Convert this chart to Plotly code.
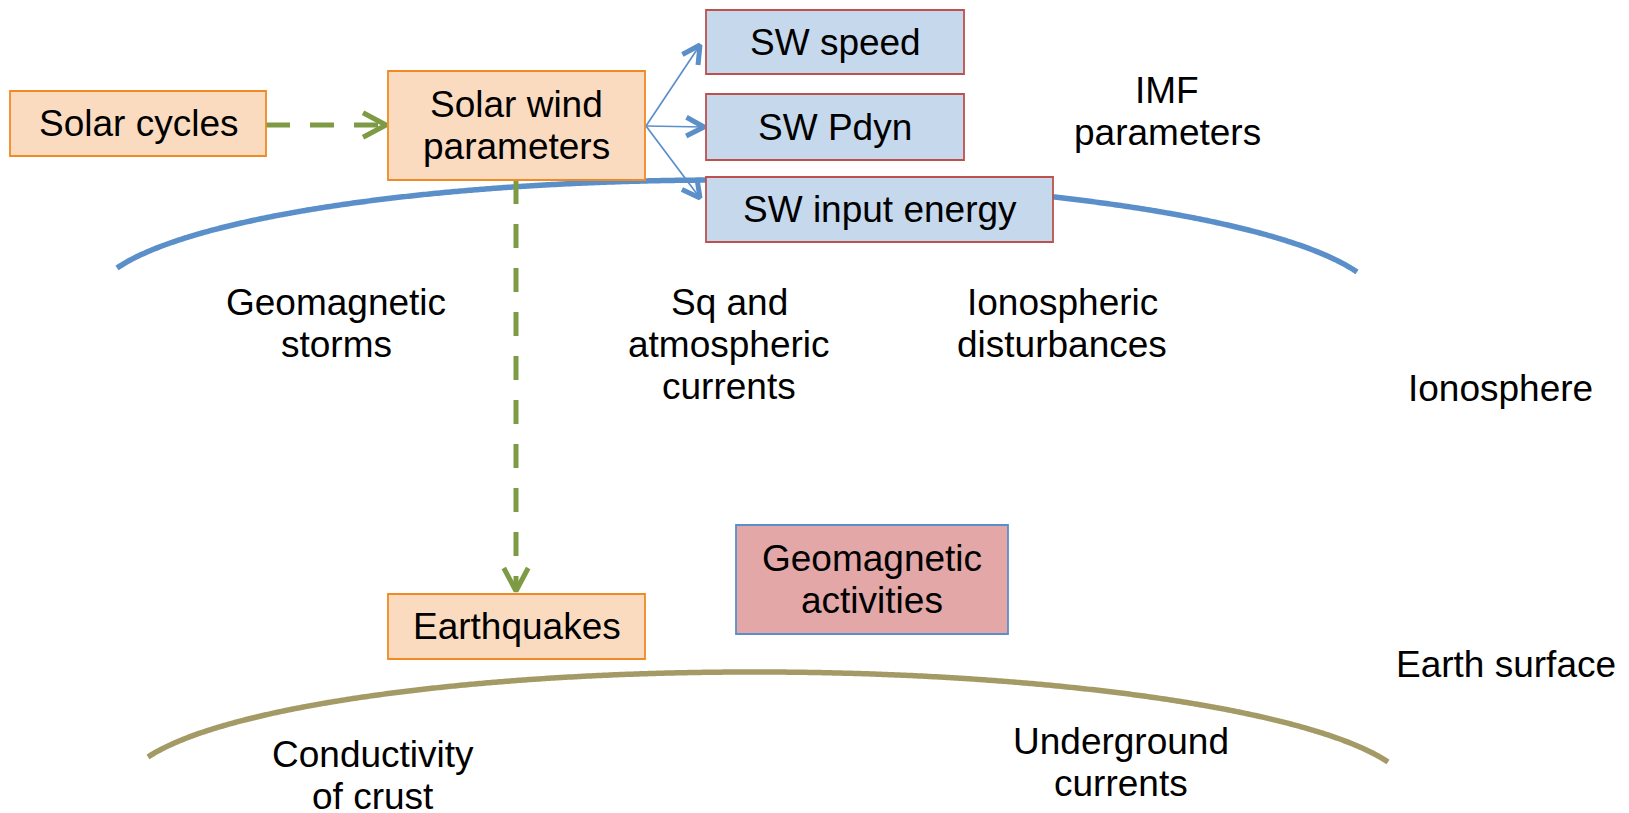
import numpy as np
import plotly.graph_objects as go

W, H = 1629, 813

# ---------------- data ----------------
# boxed nodes (label lines, extents in page pixels)
box_labels = [["Solar cycles"], ["Solar wind", "parameters"], ["SW speed"], ["SW Pdyn"],
              ["SW input energy"], ["Earthquakes"], ["Geomagnetic", "activities"]]
box_x0 = [10, 388, 706, 706, 706, 388, 736]
box_x1 = [266, 645, 964, 964, 1053, 645, 1008]
box_y0 = [91, 71, 10, 94, 177, 594, 525]
box_y1 = [156, 180, 74, 160, 242, 659, 634]
box_kind = ["source", "source", "param", "param", "param", "source", "activity"]

# free text labels (first-line centre)
free_labels = [["IMF", "parameters"], ["Geomagnetic", "storms"],
               ["Sq and", "atmospheric", "currents"], ["Ionospheric", "disturbances"],
               ["Ionosphere"], ["Earth surface"], ["Conductivity", "of crust"],
               ["Underground", "currents"]]
free_x = [1167, 336, 729, 1062, 1500, 1506, 373, 1121]
free_y = [90, 302, 302, 302, 388, 664, 754, 741]

# arcs: ionosphere (blue) and earth surface (olive)
arc_cx = [737, 768]
arc_top = [180, 672]
arc_half_span = [620, 620]
arc_left_end_y = [268, 757]
arc_right_end_y = [272, 762]
arc_kind = ["ionosphere", "earth"]

# arrows (start -> tip)
arrow_x0 = [266, 516, 646, 646, 646]
arrow_y0 = [125, 180, 126, 126, 126]
arrow_x1 = [386, 516, 700, 704, 700]
arrow_y1 = [125, 591, 45, 127, 198]
arrow_kind = ["cause", "cause", "split", "split", "split"]

# ---------------- styles ----------------
FONT = "Liberation Sans, Arial, sans-serif"
FS = 37
LINE_GAP = 42
box_style = {
    "source": dict(fill="#FBDBBF", line="#F08A24"),
    "param": dict(fill="#C6D8EC", line="#BE504D"),
    "activity": dict(fill="#E2A7A6", line="#5B8FCA"),
}
arc_style = {"ionosphere": "#5B8FCA", "earth": "#A39A66"}
arrow_style = {
    "cause": dict(color="#7D9B44", width=5, dash="24px,20px", head_w=5, head_len=26),
    "split": dict(color="#5B8FCA", width=1.7, dash="solid", head_w=5, head_len=20),
}

fig = go.Figure()

# arcs (drawn first, beneath everything)
for cx, top, half, yl, yr, kind in zip(arc_cx, arc_top, arc_half_span,
                                       arc_left_end_y, arc_right_end_y, arc_kind):
    rx = half / 0.9627
    drop = (yl + yr) / 2 - top
    ry = drop / (1 - np.sqrt(1 - (half / rx) ** 2))
    xs = np.linspace(cx - half, cx + half, 600)
    ys = top + ry * (1 - np.sqrt(1 - ((xs - cx) / rx) ** 2))
    ys = ys + (xs - cx) / (2 * half) * (yr - yl)
    fig.add_trace(go.Scatter(x=xs, y=ys, mode="lines",
                             line=dict(color=arc_style[kind], width=5.5, simplify=False),
                             hoverinfo="skip", showlegend=False))

# arrows
half_angle = np.deg2rad(28)
for x0, y0, x1, y1, kind in zip(arrow_x0, arrow_y0, arrow_x1, arrow_y1, arrow_kind):
    st = arrow_style[kind]
    fig.add_trace(go.Scatter(x=[x0, x1], y=[y0, y1], mode="lines",
                             line=dict(color=st["color"], width=st["width"], dash=st["dash"]),
                             hoverinfo="skip", showlegend=False))
    d = np.array([x0 - x1, y0 - y1], dtype=float)
    d /= np.linalg.norm(d)
    pts = []
    for s in (1, -1):
        a = s * half_angle
        rot = np.array([[np.cos(a), -np.sin(a)], [np.sin(a), np.cos(a)]])
        pts.append(np.array([x1, y1]) + st["head_len"] * rot @ d)
    fig.add_trace(go.Scatter(x=[pts[0][0], x1, pts[1][0]], y=[pts[0][1], y1, pts[1][1]],
                             mode="lines",
                             line=dict(color=st["color"], width=st["head_w"]),
                             hoverinfo="skip", showlegend=False))

# boxes
for lines, bx0, bx1, by0, by1, kind in zip(box_labels, box_x0, box_x1, box_y0, box_y1, box_kind):
    sty = box_style[kind]
    fig.add_shape(type="rect", x0=bx0, x1=bx1, y0=by0, y1=by1, xref="x", yref="y",
                  fillcolor=sty["fill"], line=dict(color=sty["line"], width=1.8),
                  layer="above")
    cx = (bx0 + bx1) / 2
    cy = (by0 + by1) / 2
    n = len(lines)
    for i, t in enumerate(lines):
        fig.add_annotation(x=cx, y=cy + (i - (n - 1) / 2) * LINE_GAP, text=t,
                           xref="x", yref="y", showarrow=False,
                           xanchor="center", yanchor="middle",
                           font=dict(family=FONT, size=FS, color="black"))

# free labels
for lines, fx, fy in zip(free_labels, free_x, free_y):
    for i, t in enumerate(lines):
        fig.add_annotation(x=fx, y=fy + i * LINE_GAP, text=t, xref="x", yref="y",
                           showarrow=False, xanchor="center", yanchor="middle",
                           font=dict(family=FONT, size=FS, color="black"))

fig.update_layout(
    width=W, height=H,
    margin=dict(l=0, r=0, t=0, b=0),
    paper_bgcolor="white", plot_bgcolor="white",
    xaxis=dict(range=[0, W], visible=False, fixedrange=True),
    yaxis=dict(range=[H, 0], visible=False, fixedrange=True),
    showlegend=False, hovermode=False,
)

fig.write_html("out.html",
               config={"displayModeBar": False, "staticPlot": True},
               post_script="document.body.style.margin='0';document.body.style.overflow='hidden';")
